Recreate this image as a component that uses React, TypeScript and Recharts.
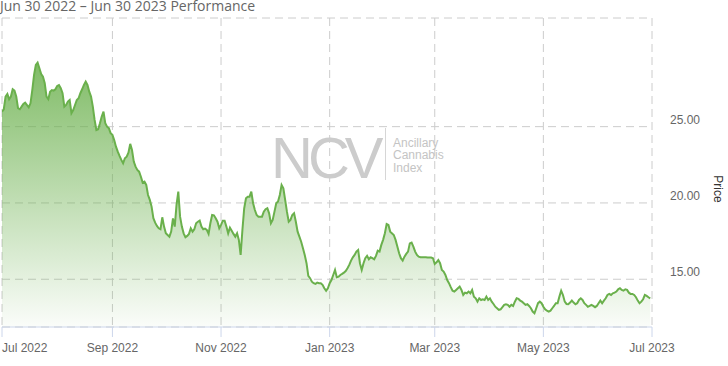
import React from 'react';
import { AreaChart, Area, XAxis, YAxis, CartesianGrid } from 'recharts';

const START_DATE = '2022-06-30';
const DAY_MS = 86400000;

// days since Jun 30 2022
const dayOffsets = [
  1, 2, 3, 4, 5, 6, 7, 8, 9, 10, 11, 12, 13, 14, 16, 17, 18, 19, 20, 21,
  22, 23, 24, 25, 26, 27, 28, 29, 30, 31, 32, 33, 34, 35, 36, 37, 38, 39, 40, 41,
  42, 43, 44, 45, 46, 47, 48, 49, 50, 51, 52, 53, 54, 55, 56, 57, 58, 59, 60, 61,
  62, 63, 64, 65, 66, 67, 68, 69, 70, 71, 72, 73, 74, 75, 76, 77, 78, 79, 80, 81,
  82, 83, 84, 85, 86, 87, 88, 89, 90, 91, 92, 93, 94, 95, 96, 97, 98, 99, 100, 101,
  102, 103, 104, 105, 106, 107, 108, 109, 110, 111, 112, 113, 114, 115, 116, 117, 118, 119, 120, 121,
  122, 123, 124, 125, 126, 127, 128, 129, 130, 131, 132, 133, 134, 135, 136, 137, 138, 139, 140, 141,
  142, 143, 144, 145, 146, 147, 148, 149, 150, 151, 152, 153, 154, 155, 156, 157, 158, 159, 160, 161,
  162, 163, 164, 165, 166, 167, 168, 169, 170, 171, 172, 173, 174, 175, 176, 177, 178, 179, 180, 181,
  182, 183, 184, 185, 186, 187, 188, 189, 190, 191, 192, 193, 194, 195, 196, 197, 198, 199, 200, 201,
  202, 203, 204, 205, 206, 207, 208, 209, 210, 211, 212, 213, 214, 215, 216, 217, 218, 219, 221, 222,
  223, 224, 225, 226, 227, 228, 229, 230, 231, 232, 233, 234, 235, 236, 237, 238, 239, 240, 241, 242,
  243, 244, 245, 246, 247, 248, 249, 250, 251, 252, 253, 254, 255, 256, 257, 258, 259, 260, 261, 262,
  263, 264, 265, 266, 267, 268, 269, 270, 271, 272, 273, 274, 275, 276, 277, 278, 279, 280, 281, 282,
  283, 284, 285, 286, 287, 288, 289, 290, 291, 292, 293, 294, 295, 296, 297, 298, 299, 300, 301, 302,
  303, 304, 305, 306, 307, 308, 309, 310, 311, 312, 313, 314, 315, 316, 317, 318, 319, 320, 321, 322,
  323, 324, 325, 326, 327, 328, 329, 330, 331, 332, 333, 334, 335, 336, 337, 338, 339, 340, 341, 342,
  343, 344, 345, 346, 347, 348, 349, 350, 351, 352, 353, 354, 355, 356, 357, 358, 359, 360, 361, 362,
  363, 364, 365,
];

const prices = [
  25.98, 26.14, 26.97, 27.14, 26.8, 26.97, 27.45, 27.36, 26.97, 26.21, 26.14, 26.31, 26.49, 26.57, 26.27, 26.53, 27.4, 28.39, 29.04, 29.19,
  28.83, 28.45, 28.28, 27.84, 26.97, 26.8, 27.29, 27.4, 27.36, 27.45, 27.67, 27.73, 27.52, 27.19, 26.31, 26.42, 26.64, 26.75, 25.88, 26.09,
  26.42, 26.75, 26.86, 27.19, 27.45, 27.73, 27.95, 27.73, 27.29, 26.97, 26.31, 25.44, 24.78, 24.83, 25.22, 25.66, 25.98, 25.22, 25.0, 24.9,
  24.57, 24.46, 24.13, 23.69, 23.36, 23.08, 22.82, 22.6, 22.93, 23.03, 23.3, 23.87, 23.47, 22.71, 22.38, 22.16, 22.05, 21.72, 21.33, 21.4,
  21.18, 20.52, 20.2, 19.76, 19.0, 18.71, 18.49, 18.34, 18.28, 19.06, 18.45, 18.01, 17.9, 17.79, 18.12, 18.99, 18.45, 19.87, 20.74, 19.1,
  18.45, 18.01, 17.75, 17.84, 17.97, 18.34, 18.12, 18.28, 18.67, 18.77, 18.84, 18.45, 18.28, 18.32, 18.23, 17.97, 18.67, 19.21, 19.19, 19.0,
  18.77, 18.34, 18.56, 18.84, 18.84, 18.45, 18.01, 18.38, 18.18, 17.97, 17.79, 18.01, 17.58, 16.59, 18.23, 19.65, 20.31, 20.41, 20.41, 20.74,
  19.98, 19.54, 19.21, 19.1, 19.1, 19.1, 19.43, 19.59, 19.65, 19.32, 18.67, 18.89, 19.43, 19.98, 20.09, 20.52, 21.18, 20.96, 20.2, 19.43,
  18.77, 18.89, 19.21, 19.32, 18.77, 18.12, 17.79, 17.46, 17.03, 16.59, 16.05, 15.22, 15.07, 14.84, 14.74, 14.69, 14.78, 14.74, 14.74, 14.63,
  14.41, 14.25, 14.41, 14.74, 14.95, 15.28, 15.61, 15.13, 15.17, 15.28, 15.35, 15.43, 15.54, 15.72, 15.94, 16.22, 16.44, 16.59, 16.81, 16.92,
  16.05, 15.61, 16.05, 16.38, 16.53, 16.31, 16.44, 16.38, 16.31, 16.53, 16.87, 16.81, 17.25, 17.58, 18.01, 18.62, 18.56, 18.12, 17.9, 17.58,
  17.14, 16.7, 16.38, 16.22, 16.48, 16.66, 16.81, 17.35, 17.4, 17.14, 16.81, 16.59, 16.48, 16.44, 16.44, 16.44, 16.44, 16.42, 16.42, 16.42,
  16.38, 16.0, 16.11, 16.26, 16.05, 15.61, 15.5, 15.28, 14.95, 14.74, 14.48, 14.25, 14.19, 14.3, 14.41, 14.52, 14.3, 13.97, 14.12, 14.08,
  14.19, 14.08, 14.3, 13.86, 13.75, 13.53, 13.75, 13.64, 13.69, 13.64, 13.86, 13.64, 13.75, 13.53, 13.38, 13.2, 13.1, 12.99, 13.03, 13.17,
  13.32, 13.36, 13.32, 13.2, 13.32, 13.25, 13.53, 13.75, 13.71, 13.6, 13.53, 13.43, 13.32, 13.36, 13.25, 13.1, 12.88, 12.77, 13.1, 13.43,
  13.53, 13.43, 13.2, 13.03, 12.94, 12.88, 12.94, 13.1, 13.25, 13.43, 13.43, 13.86, 14.25, 13.97, 13.53, 13.38, 13.36, 13.47, 13.6, 13.47,
  13.36, 13.43, 13.64, 13.75, 13.64, 13.43, 13.32, 13.2, 13.25, 13.32, 13.25, 13.17, 13.25, 13.43, 13.6, 13.43, 13.6, 13.75, 13.97, 14.04,
  13.97, 14.08, 14.12, 14.19, 14.34, 14.41, 14.3, 14.25, 14.34, 14.3, 14.12, 14.04, 14.04, 13.97, 13.82, 13.6, 13.43, 13.53, 13.69, 13.97,
  13.91, 13.82, 13.75,
];

const tickDates = ['2022-07-01', '2022-09-01', '2022-11-01', '2023-01-01', '2023-03-01', '2023-05-01', '2023-07-01'];
const tickLabels = ['Jul 2022', 'Sep 2022', 'Nov 2022', 'Jan 2023', 'Mar 2023', 'May 2023', 'Jul 2023'];
const priceTicks = [15, 20, 25];
const priceDomain = [11.87, 32.12];

const startMs = Date.parse(START_DATE);
const toDay = (iso: string) => Math.round((Date.parse(iso) - startMs) / DAY_MS);
const xTicks = tickDates.map(toDay);
const data = dayOffsets.map((d, i) => ({ day: d, price: prices[i] }));

const AXIS_FONT = '"Liberation Sans", Arial, sans-serif';

const XTick = (props: any) => {
  const { x, y, payload, index } = props;
  const i = xTicks.indexOf(payload.value);
  return (
    <text x={x} y={y} dy="0.71em" textAnchor={index === 0 ? 'start' : 'middle'} fill="#666666" fontSize={12} fontFamily={AXIS_FONT}>
      {tickLabels[i]}
    </text>
  );
};

const YTick = (props: any) => {
  const { x, y, payload } = props;
  return (
    <text x={x} y={y} dy={-3} textAnchor="start" fill="#666666" fontSize={12} fontFamily={AXIS_FONT}>
      {Number(payload.value).toFixed(2)}
    </text>
  );
};

export default function App() {
  return (
    <div style={{ position: 'absolute', left: 0, top: 0, width: 728, height: 366, background: '#ffffff', overflow: 'hidden' }}>
      <AreaChart width={728} height={366} data={data} margin={{ top: 18, right: 0, bottom: 0, left: 2 }}>
        <defs>
          <linearGradient id="ncvFill" x1="0" y1="0" x2="0" y2="1">
            <stop offset="0%" stopColor="#6ab04c" stopOpacity={0.85} />
            <stop offset="100%" stopColor="#6ab04c" stopOpacity={0.03} />
          </linearGradient>
        </defs>
        <g>
          <text x={271} y={178} fontSize={58} letterSpacing={-5} fill="#cccccc" fontFamily={AXIS_FONT}>NCV</text>
          <line x1={385.5} y1={128} x2={385.5} y2={180} stroke="#d6d6d6" strokeWidth={1} />
          <text x={393} y={146.5} fontSize={12} fill="#c4c4c4" fontFamily={AXIS_FONT}>Ancillary</text>
          <text x={393} y={159} fontSize={12} fill="#c4c4c4" fontFamily={AXIS_FONT}>Cannabis</text>
          <text x={393} y={171.5} fontSize={12} fill="#c4c4c4" fontFamily={AXIS_FONT}>Index</text>
        </g>
        <CartesianGrid stroke="#cccccc" strokeDasharray="8 5" />
        <XAxis
          dataKey="day"
          type="number"
          domain={[xTicks[0], xTicks[xTicks.length - 1]]}
          ticks={xTicks}
          interval={0}
          allowDataOverflow
          height={39}
          tickSize={10}
          tickMargin={6}
          axisLine={{ stroke: '#ccd6eb' }}
          tickLine={{ stroke: '#ccd6eb' }}
          tick={<XTick />}
        />
        <YAxis
          orientation="right"
          width={76}
          domain={priceDomain}
          ticks={priceTicks}
          allowDataOverflow
          axisLine={false}
          tickLine={false}
          tickSize={0}
          tickMargin={18}
          tick={<YTick />}
        />
        <Area
          type="linear"
          dataKey="price"
          stroke="#6ab04c"
          strokeWidth={2}
          fill="url(#ncvFill)"
          fillOpacity={1}
          dot={false}
          activeDot={false}
          isAnimationActive={false}
        />
        <text x={0} y={10.5} fontSize={14} fill="#666666" fontFamily='"Open Sans", sans-serif'>
          Jun 30 2022 – Jun 30 2023 Performance
        </text>
        <text transform="translate(714,189) rotate(90)" textAnchor="middle" fontSize={12} fill="#333333" fontFamily={AXIS_FONT}>
          Price
        </text>
      </AreaChart>
    </div>
  );
}
